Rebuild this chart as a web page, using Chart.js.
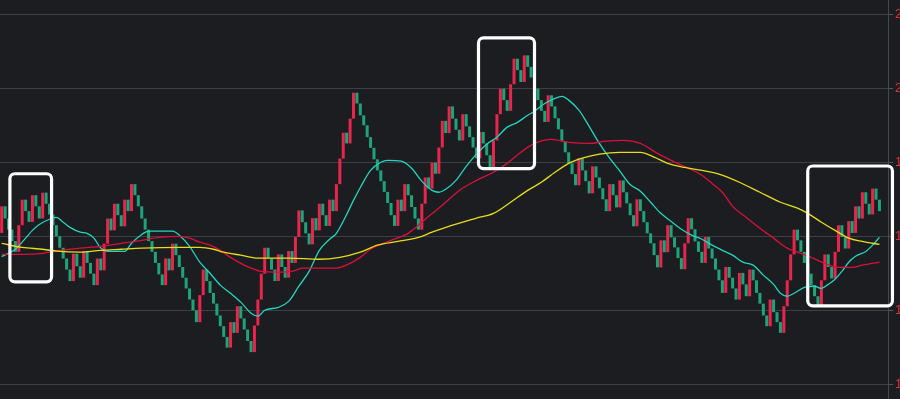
<!DOCTYPE html>
<html><head><meta charset="utf-8">
<script src="https://cdn.jsdelivr.net/npm/chart.js@4.4.1/dist/chart.umd.min.js"></script>
<style>
html,body{margin:0;padding:0;background:#1c1d21;overflow:hidden;}
#wrap{position:relative;width:900px;height:399px;overflow:hidden;background:#1c1d21;}
canvas{position:absolute;left:0;top:0;}
</style></head><body>
<div id="wrap"><canvas id="c" width="960" height="420"></canvas></div>
<script>
// ---- data ----
const firstOpen = 16.09;
const closes = [
 16.81,16.48,16.18,15.87,15.58,16.30,16.99,16.68,16.39,17.11,
 16.81,16.48,17.18,16.88,16.59,16.30,16.00,15.69,15.40,15.10,
 14.79,15.53,15.19,14.88,15.60,15.28,14.99,14.68,15.40,15.08,
 15.80,16.48,16.16,16.88,16.57,16.27,16.99,16.68,17.41,17.11,
 16.81,16.48,16.18,15.87,15.58,15.28,14.97,14.68,15.40,15.08,
 15.80,15.49,15.17,14.88,14.59,14.29,14.00,13.68,14.41,15.10,
 14.79,14.47,14.18,13.86,13.57,13.28,12.99,13.68,13.39,14.11,
 13.78,13.48,13.17,12.87,13.59,14.29,14.99,15.69,15.40,15.10,
 14.79,15.51,15.17,14.88,15.60,15.28,15.98,16.70,16.38,16.08,
 15.78,16.49,16.16,16.88,16.57,16.28,16.99,16.68,17.41,18.10,
 18.80,18.51,19.18,19.88,19.59,19.27,19.00,18.68,18.39,18.08,
 17.78,17.49,17.20,16.90,16.57,16.28,16.99,16.68,17.41,17.11,
 16.79,16.48,16.18,16.88,17.59,17.29,17.99,17.69,18.40,19.12,
 18.79,19.51,19.18,18.88,18.59,19.30,18.97,18.68,18.40,18.11,
 18.82,18.51,18.19,17.87,18.59,19.30,19.99,19.68,19.39,20.11,
 20.80,20.49,20.17,20.89,20.58,20.29,19.99,19.68,19.39,19.09,
 19.81,19.51,19.19,18.89,18.57,18.27,17.97,17.68,17.38,18.11,
 17.78,17.49,17.16,17.89,17.59,17.30,17.00,16.68,17.41,17.11,
 16.78,17.51,17.19,16.89,16.57,16.27,17.00,16.68,16.38,16.08,
 15.81,15.49,15.16,15.89,15.57,16.30,15.97,15.70,15.41,15.11,
 15.81,16.49,16.19,15.86,15.58,15.28,15.98,15.67,15.40,15.10,
 14.81,14.47,15.17,14.88,14.59,14.29,15.01,14.70,14.38,15.10,
 14.81,14.47,14.18,13.86,13.57,14.29,13.95,13.68,13.39,14.11,
 14.81,15.51,16.18,15.89,15.58,15.28,14.99,14.68,14.38,14.14,
 14.81,15.51,15.17,14.86,15.58,16.30,15.98,15.67,16.41,16.09,
 16.81,16.48,17.19,16.88,16.59,17.29,16.99,16.68
];
const slotCount = 260;
// moving averages: [candle index, value]
const maFast = [
 [0,15.45],[4,15.65],[7,15.95],[9,16.16],[11,16.32],[14,16.46],[16,16.51],[18,16.38],[20,16.24],[23,16.11],
 [25,16.08],[27,15.95],[29,15.68],[31,15.59],[36,15.59],[38,15.81],[41,16.05],[43,16.14],[50,16.14],[52,16.03],
 [55,15.73],[58,15.30],[61,15.00],[64,14.68],[67,14.46],[70,14.22],[73,13.92],[75,13.84],[77,14.00],[81,14.08],
 [84,14.24],[87,14.65],[90,15.05],[93,15.62],[96,15.92],[98,16.08],[101,16.59],[103,16.97],[105,17.32],[108,17.78],
 [111,18.00],[113,18.05],[117,18.03],[120,17.84],[123,17.49],[126,17.24],[128,17.19],[130,17.27],[133,17.51],[136,17.89],
 [139,18.22],[142,18.49],[145,18.68],[148,18.95],[151,19.08],[154,19.27],[156,19.38],[159,19.59],[162,19.73],[164,19.78],
 [166,19.68],[169,19.41],[172,18.97],[175,18.51],[178,18.11],[181,17.76],[184,17.40],[187,17.22],[190,16.92],[193,16.62],
 [196,16.40],[199,16.19],[202,16.03],[205,15.92],[208,15.76],[211,15.62],[214,15.49],[217,15.30],[220,15.22],[223,14.95],
 [226,14.70],[228,14.46],[230,14.38],[232,14.46],[235,14.62],[238,14.65],[240,14.59],[242,14.70],[244,14.84],[246,15.05],
 [248,15.30],[250,15.46],[253,15.59],[255,15.76],[257,15.97]
];
const maMid = [
 [0,15.51],[6,15.51],[12,15.54],[17,15.62],[23,15.68],[29,15.73],[35,15.81],[41,15.89],[46,15.97],[52,16.00],
 [55,15.95],[58,15.84],[61,15.76],[64,15.62],[67,15.43],[70,15.27],[73,15.14],[76,15.05],[81,15.03],[85,15.05],
 [88,15.14],[93,15.14],[98,15.14],[102,15.27],[105,15.43],[108,15.65],[114,15.89],[119,16.08],[124,16.46],[129,16.84],
 [134,17.24],[139,17.51],[144,17.73],[148,17.97],[152,18.27],[156,18.51],[161,18.62],[166,18.54],[172,18.51],[177,18.57],
 [182,18.59],[187,18.51],[192,18.24],[196,18.05],[201,17.84],[205,17.65],[208,17.43],[211,17.19],[214,16.81],[218,16.51],
 [222,16.22],[226,15.95],[230,15.68],[234,15.54],[237,15.43],[241,15.27],[245,15.16],[249,15.16],[252,15.22],[257,15.30]
];
const maSlow = [
 [0,15.81],[6,15.70],[12,15.65],[17,15.59],[23,15.57],[29,15.62],[35,15.65],[41,15.68],[52,15.70],[58,15.70],
 [62,15.65],[65,15.57],[70,15.49],[75,15.41],[84,15.41],[93,15.38],[99,15.43],[105,15.57],[110,15.76],[116,15.86],
 [122,15.97],[126,16.11],[132,16.30],[139,16.49],[144,16.62],[149,16.92],[154,17.24],[158,17.46],[162,17.73],[166,17.97],
 [170,18.11],[175,18.22],[181,18.27],[187,18.27],[191,18.14],[195,17.97],[200,17.86],[205,17.78],[210,17.68],[216,17.46],
 [222,17.19],[228,16.92],[233,16.76],[236,16.62],[240,16.38],[244,16.16],[248,15.95],[252,15.86],[257,15.78]
];
const tickValues = [12, 14, 16, 18, 20, 22];
// highlighted ranges (candle index span, price span)
const highlightFrom = [2.4, 139.6, 236.0];
const highlightTo   = [14.6, 156.0, 260.8];
const highlightHigh = [17.69, 21.36, 17.90];
const highlightLow  = [14.77, 17.83, 14.12];

// ---- chart ----
const UP = '#e8254d', DOWN = '#1fa47a';
const labels = Array.from({length: slotCount}, (_, i) => i);
const opens = [firstOpen, ...closes.slice(0, -1)];
const bodies = closes.map((c, i) => [opens[i], c]);
const bodyColors = closes.map((c, i) => c >= opens[i] ? UP : DOWN);
const toPts = arr => arr.map(([x, y]) => ({x, y}));

const highlightPlugin = {
  id: 'highlight',
  afterDatasetsDraw(chart) {
    const {ctx, scales: {x, y}} = chart;
    ctx.save();
    ctx.strokeStyle = '#ffffff';
    ctx.lineWidth = 3.2;
    for (let k = 0; k < highlightFrom.length; k++) {
      const l = x.getPixelForValue(highlightFrom[k]);
      const r = x.getPixelForValue(highlightTo[k]);
      const t = y.getPixelForValue(highlightHigh[k]);
      const b = y.getPixelForValue(highlightLow[k]);
      const rad = 5;
      ctx.beginPath();
      ctx.moveTo(l + rad, t);
      ctx.lineTo(r - rad, t); ctx.arcTo(r, t, r, t + rad, rad);
      ctx.lineTo(r, b - rad); ctx.arcTo(r, b, r - rad, b, rad);
      ctx.lineTo(l + rad, b); ctx.arcTo(l, b, l, b - rad, rad);
      ctx.lineTo(l, t + rad); ctx.arcTo(l, t, l + rad, t, rad);
      ctx.closePath();
      ctx.stroke();
    }
    ctx.restore();
  }
};

const lineDs = (data, color) => ({
  type: 'line', data: toPts(data), borderColor: color, borderWidth: 1.3,
  pointRadius: 0, cubicInterpolationMode: 'monotone', order: 1, spanGaps: true
});

new Chart(document.getElementById('c'), {
  type: 'bar',
  data: {
    labels,
    datasets: [
      { type: 'bar', data: bodies, backgroundColor: bodyColors, borderWidth: 0,
        barPercentage: 0.88, categoryPercentage: 1.0, order: 2 },
      lineDs(maSlow, '#e6dd1c'),
      lineDs(maMid, '#d9103a'),
      lineDs(maFast, '#22d6bf')
    ]
  },
  options: {
    responsive: false, animation: false, devicePixelRatio: 1,
    layout: { padding: 0 },
    plugins: { legend: { display: false }, tooltip: { enabled: false } },
    scales: {
      x: { type: 'category', display: false, offset: true, grid: { display: false } },
      y: {
        position: 'right', min: 11.035, max: 22.386,
        afterBuildTicks: s => { s.ticks = tickValues.map(v => ({value: v})); },
        afterFit: s => { s.width = 72; s.paddingTop = 0; s.paddingBottom = 0; },
        grid: { color: '#3e3f43', lineWidth: 1, tickLength: 5, tickColor: '#555659' },
        border: { display: true, color: '#47484c' },
        ticks: { color: '#e5303a', padding: 2, font: { size: 13, family: 'Arial, Liberation Sans, sans-serif' },
                 callback: v => v.toFixed(2) }
      }
    }
  },
  plugins: [highlightPlugin]
});
</script>
</body></html>
